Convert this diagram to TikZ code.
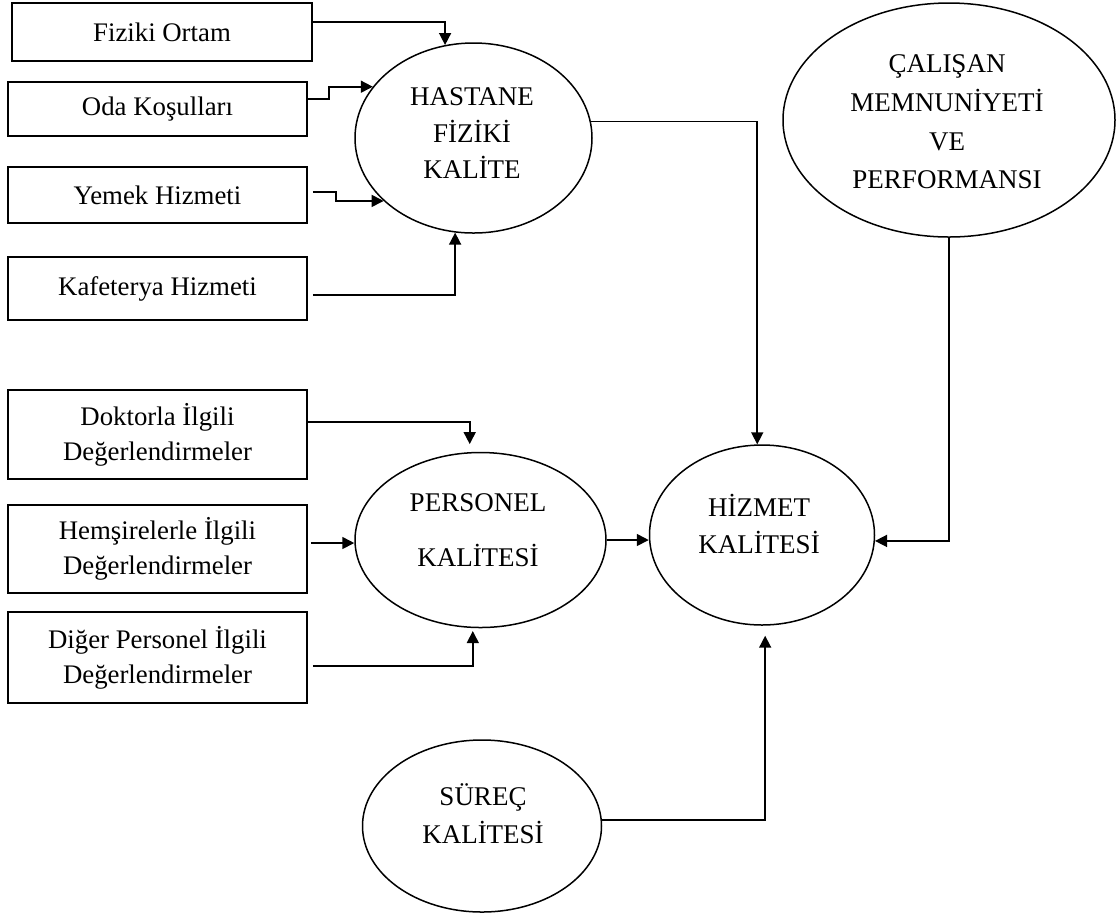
\documentclass[tikz,border=0pt]{standalone}
\usepackage{fontspec}
\setmainfont{Liberation Serif}
\usetikzlibrary{shapes.geometric,arrows.meta}
\begin{document}
\begin{tikzpicture}[x=0.5pt,y=-0.5pt,
  box/.style={draw, line width=0.9pt, inner sep=0pt, align=center,
    minimum width=149.5pt, font=\fontsize{13.4}{17.5}\selectfont},
  ell/.style={draw, ellipse, line width=0.75pt, inner sep=0pt},
  lbl/.style={align=center, inner sep=0pt},
  arr/.style={line width=0.8pt, -{Triangle[length=6pt,width=6pt]}}]
\useasboundingbox (0,0) rectangle (1120,918);

% input boxes
\node[box, minimum width=150pt, minimum height=29pt] (fo) at (162,32) {Fiziki Ortam};
\node[box, minimum height=27pt] (oda) at (157.5,109) {Oda Koşulları};
\node[box, minimum height=28pt] (yem) at (157.5,195) {Yemek Hizmeti};
\node[box, minimum height=31.5pt] (kaf) at (157.5,288.5) {Kafeterya Hizmeti};
\node[box, minimum height=44.5pt] (dok) at (157.5,434.5) {Doktorla İlgili\\Değerlendirmeler};
\node[box, minimum height=44pt] (hem) at (157.5,549) {Hemşirelerle İlgili\\Değerlendirmeler};
\node[box, minimum height=45.5pt] (dig) at (157.5,657.5) {Diğer Personel İlgili\\Değerlendirmeler};

% quality ellipses
\node[ell, minimum width=118.5pt, minimum height=95pt] (hfk) at (473.5,138) {};
\node[ell, minimum width=166pt, minimum height=117pt] (cal) at (949,120) {};
\node[ell, minimum width=125.5pt, minimum height=87.5pt] (per) at (480.5,540) {};
\node[ell, minimum width=112.5pt, minimum height=90pt] (hiz) at (762,535) {};
\node[ell, minimum width=119.5pt, minimum height=86pt] (sur) at (482,826) {};

% ellipse labels
\node[lbl, font=\fontsize{13.5}{18.25}\selectfont] (hfkt) at (472,133.5) {HASTANE\\FİZİKİ\\KALİTE};
\node[lbl, font=\fontsize{13.5}{19.3}\selectfont] (calt) at (947,122) {ÇALIŞAN\\MEMNUNİYETİ\\VE\\PERFORMANSI};
\node[lbl, font=\fontsize{13.5}{27.5}\selectfont] (pert) at (478,530.5) {PERSONEL\\KALİTESİ};
\node[lbl, font=\fontsize{13.5}{18.5}\selectfont] (hizt) at (759,523.5) {HİZMET\\KALİTESİ};
\node[lbl, font=\fontsize{13.5}{19}\selectfont] (surt) at (483,814) {SÜREÇ\\KALİTESİ};

% connectors
\draw[arr] ([yshift=5pt]fo.east) -| (hfk.107);
\draw[arr] ([yshift=5pt]oda.east) -- ++(21,0) |- (hfk.153);
\draw[arr, shorten <=2.5pt] ([yshift=1.5pt]yem.east) -- ++(28,0) |- (hfk.215);
\draw[arr, shorten <=2.5pt] ([yshift=-3.25pt]kaf.east) -| (hfk.259);
\draw[arr] (hfk.8) -| (hiz.93);
\draw[arr] (cal.south) |- (hiz.-3);
\draw[arr] (per.east) -- (per.east -| hiz.west);
\draw[arr, shorten >=4pt] ([yshift=6.25pt]dok.east) -| (per.97);
\draw[arr, shorten <=1.5pt] ([yshift=3pt]hem.east) -- ([yshift=3pt]hem.east -| per.west);
\draw[arr, shorten <=2.5pt, shorten >=1.5pt] ([yshift=-4.25pt]dig.east) -| (per.265);
\draw[arr, shorten >=5pt] (sur.3) -| (hiz.272);
\end{tikzpicture}
\end{document}
